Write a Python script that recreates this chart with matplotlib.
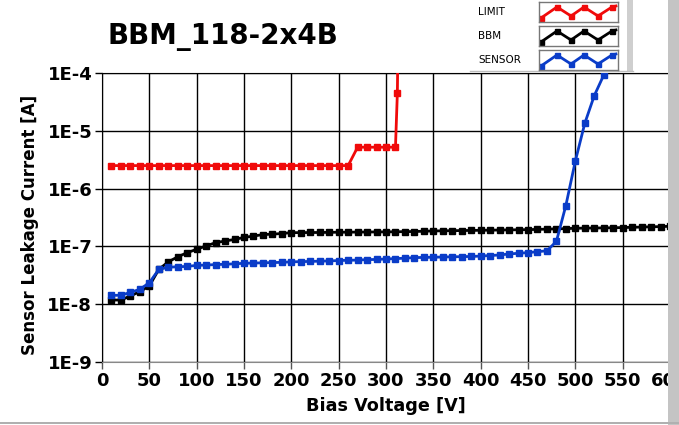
import numpy as np
import matplotlib
matplotlib.use("Agg")
import matplotlib.pyplot as plt
from matplotlib.patches import Rectangle

plt.rcParams['font.family'] = ['DejaVu Sans']

# --- data ---
limit_v = [10, 20, 30, 40, 50, 60, 70, 80, 90, 100, 110, 120, 130, 140, 150,
           160, 170, 180, 190, 200, 210, 220, 230, 240, 250, 260,
           270, 280, 290, 300, 310, 312, 313]
limit_i = [2.5e-6] * 26 + [5.2e-6] * 5 + [4.5e-5, 1e-3]

bbm_v = list(range(10, 610, 10))
bbm_i = [1.18e-8, 1.18e-8, 1.39e-8, 1.65e-8, 2.07e-8, 4.0e-8, 5.4e-8, 6.6e-8,
         7.8e-8, 8.9e-8, 1.02e-7, 1.16e-7, 1.24e-7, 1.32e-7, 1.43e-7, 1.51e-7,
         1.6e-7, 1.63e-7, 1.67e-7, 1.73e-7, 1.73e-7, 1.74e-7, 1.74e-7, 1.75e-7,
         1.76e-7, 1.76e-7, 1.77e-7, 1.77e-7, 1.78e-7, 1.78e-7, 1.79e-7, 1.8e-7,
         1.81e-7, 1.83e-7, 1.85e-7, 1.86e-7, 1.87e-7, 1.88e-7, 1.89e-7, 1.9e-7,
         1.91e-7, 1.92e-7, 1.93e-7, 1.94e-7, 1.95e-7, 1.97e-7, 1.99e-7, 2.01e-7,
         2.03e-7, 2.06e-7, 2.07e-7, 2.08e-7, 2.09e-7, 2.1e-7, 2.12e-7, 2.14e-7,
         2.16e-7, 2.18e-7, 2.2e-7, 2.23e-7]

sensor_v = list(range(10, 550, 10))
sensor_i = [1.42e-8, 1.43e-8, 1.6e-8, 1.81e-8, 2.35e-8, 4.0e-8, 4.35e-8, 4.45e-8,
            4.5e-8, 4.7e-8, 4.75e-8, 4.85e-8, 4.9e-8, 5.0e-8, 5.1e-8, 5.15e-8,
            5.2e-8, 5.25e-8, 5.3e-8, 5.4e-8, 5.45e-8, 5.5e-8, 5.55e-8, 5.6e-8,
            5.7e-8, 5.75e-8, 5.8e-8, 5.9e-8, 5.95e-8, 6.05e-8, 6.15e-8, 6.25e-8,
            6.4e-8, 6.45e-8, 6.5e-8, 6.55e-8, 6.6e-8, 6.65e-8, 6.7e-8, 6.8e-8,
            6.95e-8, 7.1e-8, 7.4e-8, 7.6e-8, 7.8e-8, 8.1e-8, 8.4e-8, 1.22e-7,
            5.1e-7, 3.0e-6, 1.35e-5, 4.05e-5, 9.2e-5, 2.5e-4]

series = [("LIMIT", limit_v, limit_i, "#f00a0a"),
          ("BBM", bbm_v, bbm_i, "#000000"),
          ("SENSOR", sensor_v, sensor_i, "#0a3cc8")]

W, H = 679, 425
fig = plt.figure(figsize=(W / 100, H / 100), dpi=100)
fig.patch.set_facecolor("white")


def px(x0, y0, x1, y1):
    # pixel box (top-left origin) -> figure fraction rect
    return [x0 / W, 1 - y1 / H, (x1 - x0) / W, (y1 - y0) / H]


ax = fig.add_axes(px(102, 73, 670, 362))
for name, v, i, c in series:
    ax.plot(v, i, color=c, lw=2.0, marker="s", ms=4.2, mec=c, mfc=c,
            zorder=3, clip_on=True)

ax.set_yscale("log")
ax.set_xlim(0, 600)
ax.set_ylim(1e-9, 1e-4)
ax.set_xticks(np.arange(0, 601, 50))
yt = [1e-9, 1e-8, 1e-7, 1e-6, 1e-5, 1e-4]
ax.set_yticks(yt)
ax.set_yticklabels(["1E-9", "1E-8", "1E-7", "1E-6", "1E-5", "1E-4"])
ax.minorticks_off()
ax.grid(True, color="black", lw=1.0)
ax.set_axisbelow(True)
ax.tick_params(axis="both", labelsize=13, length=5, width=1, pad=2)
ax.tick_params(axis="x", colors="#555555", labelcolor="black")
for lab in ax.get_xticklabels() + ax.get_yticklabels():
    lab.set_fontweight("bold")
ax.spines["bottom"].set_color("#888888")
ax.spines["left"].set_color("black")
ax.spines["top"].set_color("black")
ax.spines["right"].set_visible(False)

ax.set_xlabel("Bias Voltage [V]", fontsize=12.7, fontweight="bold", labelpad=5)
fig.text(30 / W, 1 - 225 / H, "Sensor Leakage Current [A]", rotation=90,
         fontsize=12, fontweight="bold", ha="center", va="center")

fig.text(107 / W, 1 - 37 / H, "BBM_118-2x4B", fontsize=20, fontweight="bold",
         ha="left", va="center")

# legend panel (LabVIEW style)
fig.patches.append(Rectangle((468 / W, 1 - 71 / H), (627 - 468) / W, 71 / H,
                             transform=fig.transFigure, facecolor="white",
                             edgecolor="none", zorder=5))
fig.patches.append(Rectangle((627 / W, 1 - 71 / H), 6 / W, 71 / H,
                             transform=fig.transFigure, facecolor="#cfcfcf",
                             edgecolor="none", zorder=5))
fig.lines.append(plt.Line2D([470 / W, 633 / W], [1 - 71 / H, 1 - 71 / H],
                            transform=fig.transFigure, color="#bdbdbd", lw=1,
                            zorder=6))

zig_x = [2, 18, 32, 45, 59, 73, 77]
zig_y = [16, 5, 14, 5, 14, 5, 4]
rows = [(2, 22), (26, 46), (50, 70)]
for (name, v, i, c), (y0, y1) in zip(series, rows):
    lax = fig.add_axes(px(539, y0, 618, y1))
    lax.set_zorder(10)
    lax.set_xlim(0, 79)
    lax.set_ylim(20, 0)
    lax.plot(zig_x[:-1], zig_y[:-1], color=c, lw=2.0, marker="s", ms=3.6,
             mfc=c, mec=c)
    lax.plot(zig_x[-2:], zig_y[-2:], color=c, lw=2.0)
    lax.set_xticks([])
    lax.set_yticks([])
    for s in lax.spines.values():
        s.set_color("#777777")
        s.set_linewidth(1)
    fig.text(478 / W, 1 - (y0 + y1) / 2 / H, name, fontsize=7.5,
             ha="left", va="center", zorder=11)

# frame edges
fig.patches.append(Rectangle((668 / W, 0), 11 / W, 1, transform=fig.transFigure,
                             facecolor="#c4c4c4", edgecolor="none", zorder=20))
fig.patches.append(Rectangle((0, 1 - 424 / H), 1, 2 / H, transform=fig.transFigure,
                             facecolor="#b0b0b0", edgecolor="none", zorder=20))

fig.savefig("out.png", dpi=100)
